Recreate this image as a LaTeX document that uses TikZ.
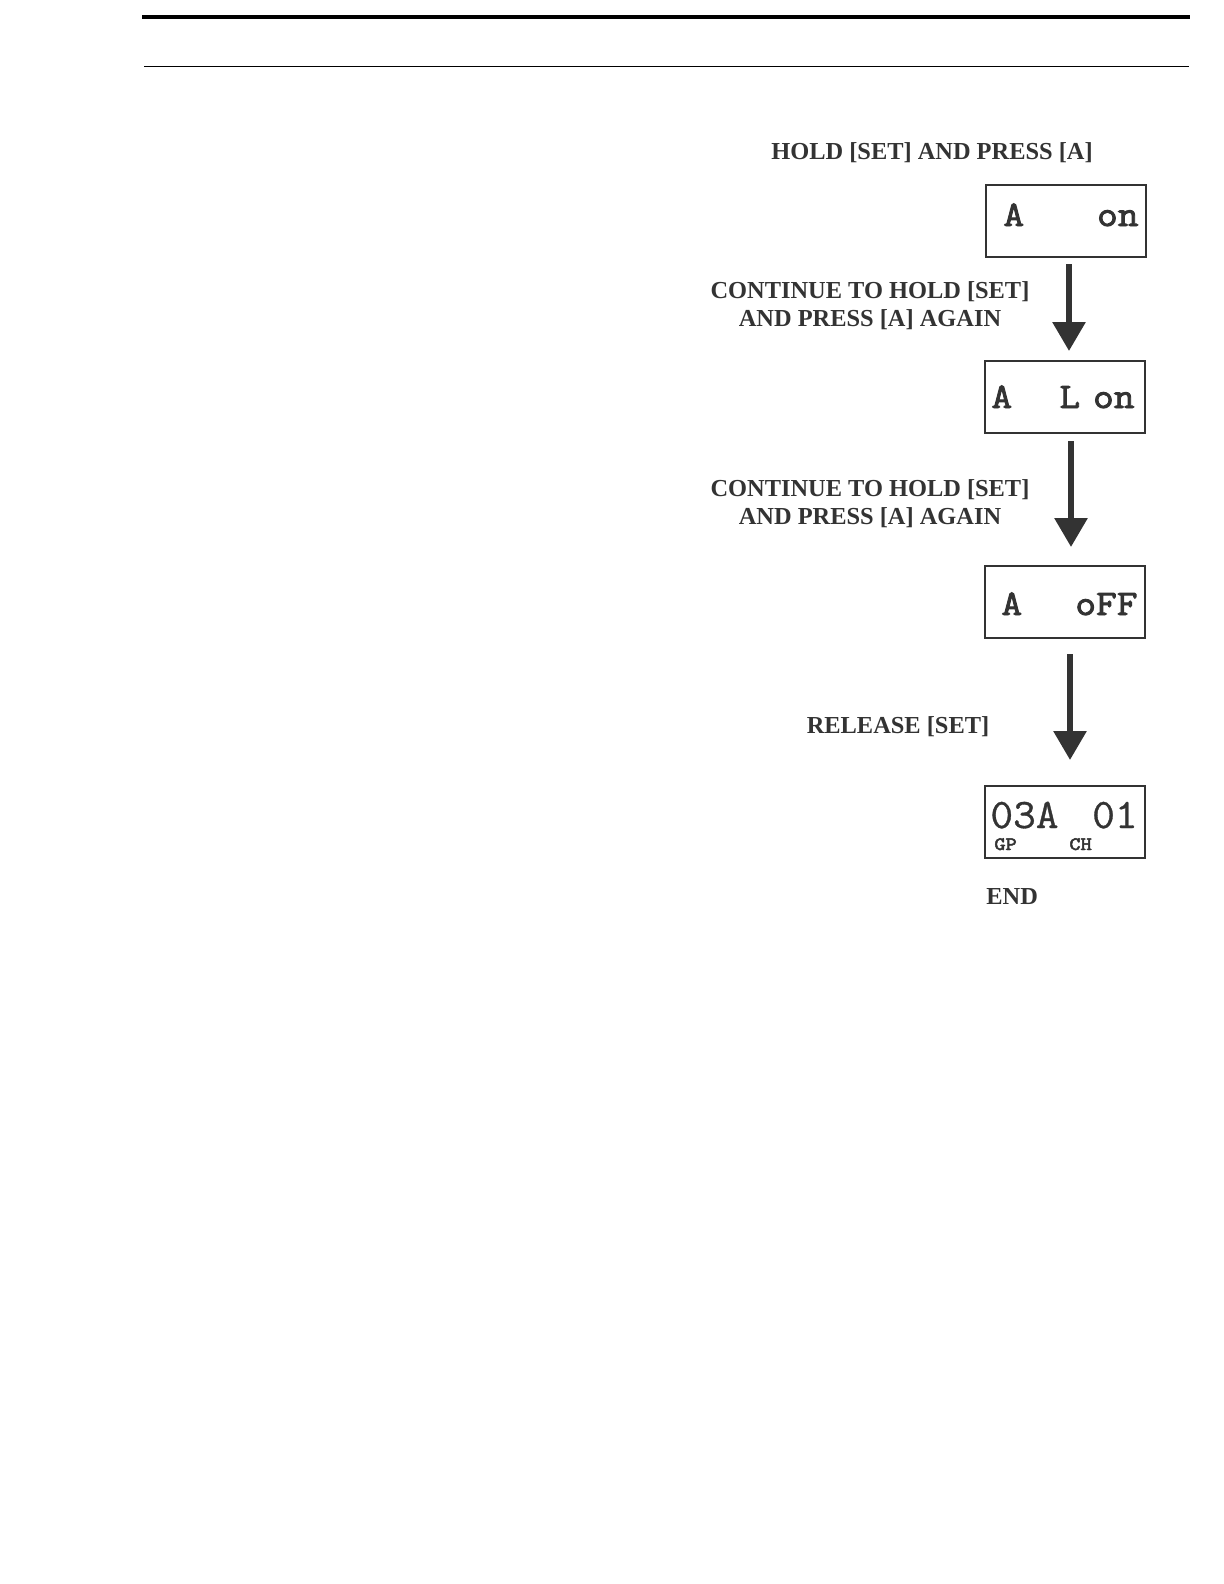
\documentclass[tikz,border=0pt]{standalone}
\usepackage{fontspec}
\setmainfont{Liberation Serif}
\newfontfamily\lcdb{Latin Modern Mono}[FakeBold=2.5,FakeStretch=1.12]
\newfontfamily\lcdr{Latin Modern Mono}[FakeBold=0.8,FakeStretch=1.05]
\usetikzlibrary{arrows.meta}
\definecolor{ink}{HTML}{333333}
\begin{document}
\begin{tikzpicture}[x=0.5pt,y=-0.5pt,
  lcd/.style={draw=ink, line width=1pt, minimum width=80pt, minimum height=36pt, inner sep=0pt},
  lbl/.style={font=\fontsize{12.2}{14}\selectfont\bfseries, text=ink, align=center, inner sep=0pt},
  seg/.style={font=\lcdb\fontsize{18}{18}\selectfont, text=ink, inner sep=0pt},
  big/.style={font=\lcdr\fontsize{21}{21}\selectfont, text=ink, inner sep=0pt, text depth=0pt},
  tiny/.style={font=\lcdb\fontsize{9.5}{9.5}\selectfont, text=ink, inner sep=0pt, text height=6pt},
  flow/.style={draw=ink, line width=3pt, -{Triangle[width=16pt,length=14.5pt]}}
]
\useasboundingbox (0,0) rectangle (1224,1584);
\fill[white] (0,0) rectangle (1224,1584);
\draw[line width=2pt] (142,17.5) -- (1190,17.5);
\draw[line width=0.75pt] (144,66.5) -- (1189,66.5);

\node[lbl, anchor=base] (t0) at (932,159) {HOLD [SET] AND PRESS [A]};

\node[lcd] (b1) at (1066,221) {};
\node[seg, anchor=base west] (b1a) at (1003,226) {A};
\node[seg, anchor=base east] (b1b) at (1139,226) {on};

\node[lbl] (t1) at (870,306) {CONTINUE TO HOLD [SET]\\AND PRESS [A] AGAIN};

\node[lcd] (b2) at (1065,397) {};
\node[seg, anchor=base west] (b2a) at (991,408) {A};
\node[seg, anchor=base west] (b2b) at (1059,408) {L};
\node[seg, anchor=base east] (b2c) at (1135,408) {on};

\node[lbl] (t2) at (870,504) {CONTINUE TO HOLD [SET]\\AND PRESS [A] AGAIN};

\node[lcd] (b3) at (1065,602) {};
\node[seg, anchor=base west] (b3a) at (1001,615) {A};
\node[seg, anchor=base east] (b3b) at (1138,615) {oFF};

\node[lbl, anchor=base] (t3) at (898,733.5) {RELEASE [SET]};

\node[lcd] (b4) at (1065,822) {};
\node[big, anchor=base west] (b4a) at (990,828) {03A};
\node[big, anchor=base east] (b4b) at (1138,828) {01};
\node[tiny, anchor=base west] (b4c) at (994,850) {GP};
\node[tiny, anchor=base west] (b4d) at (1069,850) {CH};

\node[lbl, anchor=base west] (t4) at (986,904) {END};

\draw[flow, shorten <=3pt, shorten >=4.5pt] ([xshift=1.5pt]b1.south) -- ([xshift=2pt]b2.north);
\draw[flow, shorten <=3.5pt, shorten >=9pt] ([xshift=3pt]b2.south) -- ([xshift=3pt]b3.north);
\draw[flow, shorten <=7.5pt, shorten >=12.5pt] ([xshift=2.5pt]b3.south) -- ([xshift=2.5pt]b4.north);
\end{tikzpicture}
\end{document}
